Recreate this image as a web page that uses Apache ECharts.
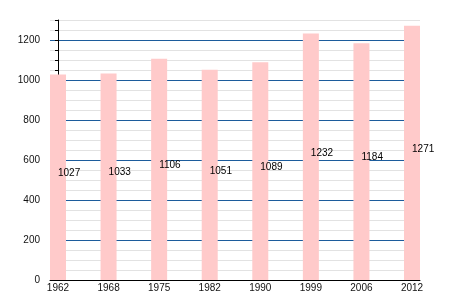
<!DOCTYPE html>
<html><head><meta charset="utf-8">
<script src="https://cdn.jsdelivr.net/npm/echarts@6/dist/echarts.min.js"></script>
<style>html,body{margin:0;padding:0;background:#fff}#c{width:450px;height:300px}</style>
</head><body><div id="c"></div>
<script>
const years = ['1962','1968','1975','1982','1990','1999','2006','2012'];
const population = [1027,1033,1106,1051,1089,1232,1184,1271];
const yTickStep = 50;
const yLabelStep = 200;

const chart = echarts.init(document.getElementById('c'));
const gridColors = ['#1c5c9c','#e2e2e2','#e2e2e2','#e2e2e2'];
chart.setOption({
  animation: false,
  textStyle: {fontFamily: 'Liberation Sans, Arial, sans-serif'},
  grid: {left: 50, right: 30, top: 20, bottom: 20},
  xAxis: {
    type: 'value', min: -0.158, max: 7.158,
    axisLine: {show: true, onZero: false, lineStyle: {color: '#000', width: 1}},
    axisTick: {show: false},
    splitLine: {show: false},
    axisLabel: {customValues: years.map((y,i)=>i), formatter: v => years[Math.round(v)] ?? '',
      fontSize: 10, color: '#111', margin: 3}
  },
  yAxis: {
    type: 'value', min: 0, max: 1300, interval: yTickStep,
    axisLine: {show: true, lineStyle: {color: '#000', width: 1}},
    axisTick: {show: true, length: 3, lineStyle: {color: '#000'}},
    splitLine: {show: true, lineStyle: {color: gridColors, width: 1}},
    axisLabel: {formatter: v => (v % yLabelStep === 0 && v <= 1200) ? String(v) : '',
      fontSize: 10, color: '#111', margin: 10}
  },
  series: [{
    type: 'bar',
    data: population.map((v,i)=>[i,v]),
    barWidth: 16,
    itemStyle: {color: '#ffcaca'},
    label: {show: true, position: ['50%','50%'], align: 'left', verticalAlign: 'middle',
      offset: [0,-4], fontSize: 10, color: '#000', formatter: p => String(p.value[1])}
  }]
});
</script></body></html>
